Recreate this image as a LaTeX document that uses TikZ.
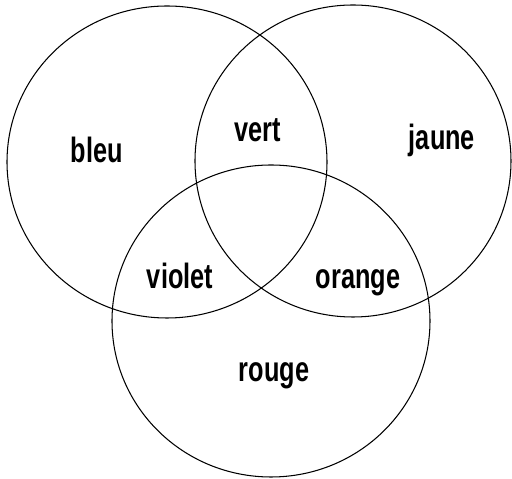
\documentclass[tikz,border=0pt]{standalone}
\usepackage{fontspec}
\setmainfont{Liberation Sans}

\tikzset{
    couleur/.style={font=\fontsize{20}{20}\selectfont\bfseries, inner sep=0pt, anchor=base},
    rond/.style={draw, line width=0.6pt}
}
\newcommand{\serre}[1]{\scalebox{0.72}[1]{#1}}

\begin{document}
\begin{tikzpicture}[x=0.02cm, y=-0.02cm]
    \useasboundingbox (0,0) rectangle (512,479);
    \path coordinate (L) at (167,162)
        coordinate (R) at (353,161)
        coordinate (B) at (271,321);
    \draw[rond] (L) ellipse [x radius=160, y radius=156];
    \draw[rond] (R) ellipse [x radius=158, y radius=156];
    \draw[rond] (B) ellipse [x radius=159, y radius=156];
    \path node[couleur] (bleu) at (97,163) {\serre{bleu}}
        node[couleur] (vert) at (258,142) {\serre{vert}}
        node[couleur] (jaune) at (442,150) {\serre{jaune}}
        node[couleur] (violet) at (180,289) {\serre{violet}}
        node[couleur] (orange) at (358,289) {\serre{orange}}
        node[couleur] (rouge) at (274,382) {\serre{rouge}};
\end{tikzpicture}
\end{document}
